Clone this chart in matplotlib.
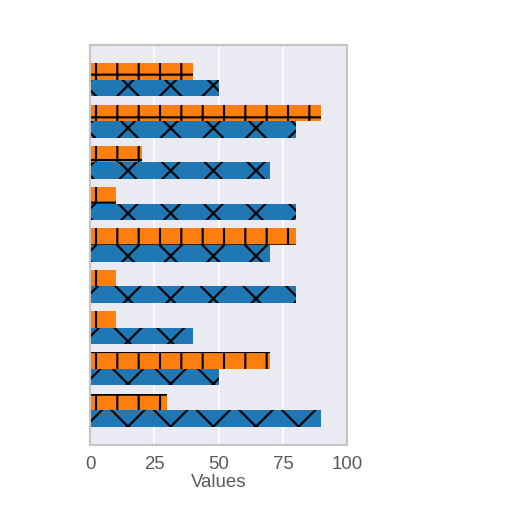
import matplotlib
matplotlib.use("Agg")
import matplotlib.pyplot as plt
import numpy as np
import seaborn as sns

sns.set_theme(style="darkgrid")
plt.rcParams['font.family'] = ['Liberation Sans', 'DejaVu Sans']
plt.rcParams['hatch.color'] = 'black'
plt.rcParams['hatch.linewidth'] = 1.2

# values listed from bottom category to top category
series_a = [90, 50, 40, 80, 70, 80, 70, 80, 50]   # blue, 'x' hatch
series_b = [30, 70, 10, 10, 80, 10, 20, 90, 40]   # orange, '+' hatch
xticks = [0, 25, 50, 75, 100]

fig = plt.figure(figsize=(4, 4), dpi=128)
ax = fig.add_axes([0.176, 0.131, 0.502, 0.781])

y = np.arange(len(series_a))
h = 0.4
ax.barh(y - h / 2, series_a, height=h, color='#1f77b4', hatch='x', edgecolor='black', linewidth=0)
ax.barh(y + h / 2, series_b, height=h, color='#ff7f0e', hatch='+', edgecolor='black', linewidth=0)

ax.set_xlim(0, 100)
ax.set_xticks(xticks)
ax.set_yticks([])
ax.grid(axis='y', visible=False)
ax.set_xlabel('Values', color='#5a5a5a', fontsize=10.5, labelpad=1)
ax.tick_params(axis='x', colors='#5a5a5a', labelsize=10.5, pad=0)
for s in ax.spines.values():
    s.set_visible(True)
    s.set_color('#c4c4c4')
    s.set_linewidth(1.2)

fig.savefig('out.png', dpi=128)
